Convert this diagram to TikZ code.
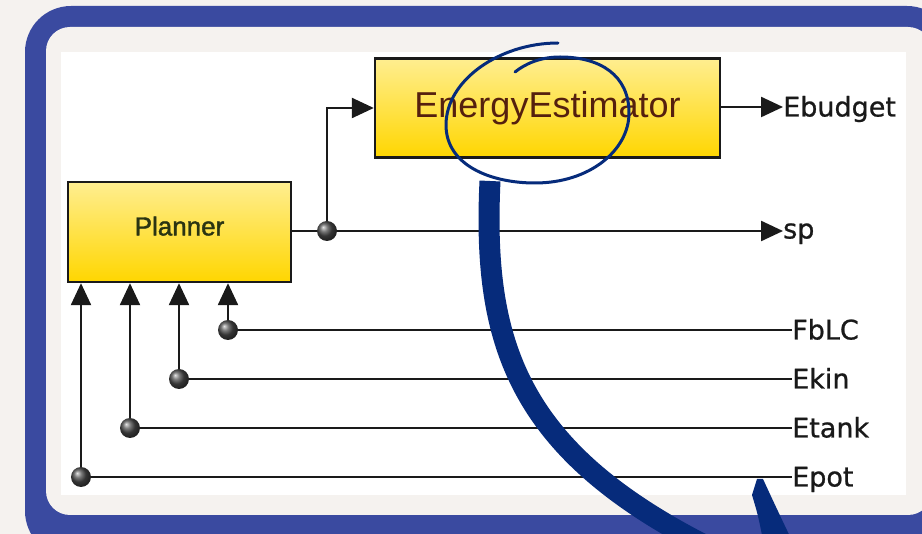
\documentclass[tikz,border=0pt]{standalone}
\usepackage{fontspec}
\setmainfont{Liberation Sans}
\newfontfamily\portfont[FakeBold=0.8]{DejaVu Sans}
\newfontfamily\planfont[FakeBold=1.6]{Liberation Sans}
\usetikzlibrary{arrows.meta}

\definecolor{framecol}{HTML}{3A4AA0}
\definecolor{paper}{HTML}{F5F2EF}
\definecolor{ink}{HTML}{062B7B}
\definecolor{wire}{HTML}{1A1A1A}
\definecolor{blocktop}{HTML}{FFEE90}
\definecolor{blockbot}{HTML}{FFD600}
\definecolor{esttext}{HTML}{55200E}
\definecolor{plantext}{HTML}{2A3412}

\tikzset{
  block/.style={rectangle, draw=wire, line width=2.4pt, top color=blocktop,
    bottom color=blockbot, inner sep=0pt},
  wireline/.style={draw=wire, line width=2.4pt},
  sig/.style={wireline, -{Triangle[length=22pt,width=20pt]}},
  tap/.style={circle, inner sep=0pt, minimum size=20pt, shading=ball,
    ball color=black!70},
  port/.style={inner sep=0pt, anchor=west, text height=19pt, text depth=0pt,
    font=\portfont\fontsize{27}{30}\selectfont, text=black!90},
  marker/.style={draw=ink, line width=3pt, line cap=round},
}

\begin{document}
\begin{tikzpicture}[x=1pt,y=-1pt]
\useasboundingbox (0,0) rectangle (922,534);
\clip (0,0) rectangle (922,534);

% page, frame and the white drawing area
\fill[paper] (0,0) rectangle (922,534);
\fill[framecol, rounded corners=46pt] (25,6) rectangle (953,557);
\fill[paper, rounded corners=24pt] (46,27) rectangle (932,515);
\fill[white] (61,52) rectangle (906,495);

% blocks
\node[block, minimum width=223pt, minimum height=100pt,
      font=\planfont\fontsize{26}{30}\selectfont, text=plantext, text depth=12pt]
      (planner) at (179.5,232) {Planner};
\node[block, minimum width=345pt, minimum height=99pt,
      font=\fontsize{36}{40}\selectfont, text=esttext]
      (estimator) at (547.5,108) {EnergyEstimator};

% junction dots
\node[tap] (d0) at (327,231) {};
\node[tap] (d1) at (228,330) {};
\node[tap] (d2) at (179,379) {};
\node[tap] (d3) at (130,428) {};
\node[tap] (d4) at (81,477) {};

% ports
\node[port] (ebudget) at (783,107) {Ebudget};
\node[port, text height=15pt] (sp) at (783,231) {sp};
\node[port] (fblc)  at (792,330) {FbLC};
\node[port] (ekin)  at (792,379) {Ekin};
\node[port] (etank) at (792,428) {Etank};
\node[port] (epot)  at (792,477) {Epot};

% outputs
\draw[wireline] (planner.east |- d0) -- (d0);
\draw[sig] (d0) |- (estimator.west);
\draw[sig] (d0) -- (sp.west);
\draw[sig] (estimator.east |- ebudget.west) -- (ebudget.west);

% inputs
\foreach \d/\p in {d1/fblc, d2/ekin, d3/etank, d4/epot}{
  \draw[wireline] (\d) -- (\p.west);
  \draw[sig] (\d) -- (\d |- planner.south);
}

% hand-drawn highlight
\draw[marker] (558,43) .. controls (500,43) and (446,80) .. (446,125)
  .. controls (446,165) and (490,183) .. (535,183)
  .. controls (590,183) and (629,150) .. (629,113)
  .. controls (629,75) and (600,57) .. (560,57)
  .. controls (540,57) and (525,64) .. (515,72);
\draw[ink, line width=21pt] (490,181) .. controls (482,350) and (520,460) .. (735,560);
\fill[ink] (757,479) -- (763,479) .. controls (775,505) .. (794,545)
  -- (764,545) .. controls (758,515) .. (752,495) -- cycle;
\end{tikzpicture}
\end{document}
